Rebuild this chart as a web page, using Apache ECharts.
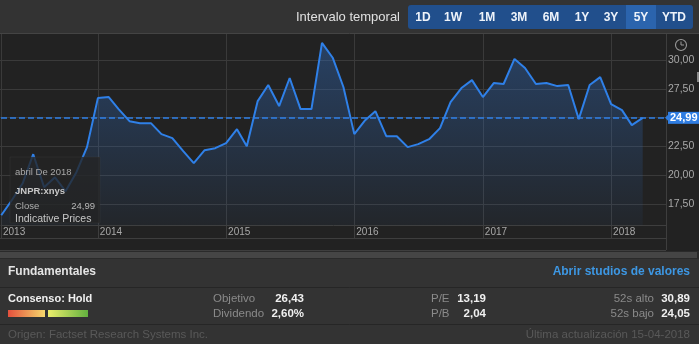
<!DOCTYPE html>
<html>
<head>
<meta charset="utf-8">
<script src="https://cdn.jsdelivr.net/npm/echarts@6/dist/echarts.min.js"></script>
<style>
  html, body { margin: 0; padding: 0; background: #222; }
  #chart { width: 699px; height: 344px; }
</style>
</head>
<body>
<div id="chart"></div>
<script>
// Monthly closing prices, JNPR:xnys, five-year view
const months = [
  '2013-04','2013-05','2013-06','2013-07','2013-08','2013-09','2013-10','2013-11','2013-12',
  '2014-01','2014-02','2014-03','2014-04','2014-05','2014-06','2014-07','2014-08','2014-09','2014-10','2014-11','2014-12',
  '2015-01','2015-02','2015-03','2015-04','2015-05','2015-06','2015-07','2015-08','2015-09','2015-10','2015-11','2015-12',
  '2016-01','2016-02','2016-03','2016-04','2016-05','2016-06','2016-07','2016-08','2016-09','2016-10','2016-11','2016-12',
  '2017-01','2017-02','2017-03','2017-04','2017-05','2017-06','2017-07','2017-08','2017-09','2017-10','2017-11','2017-12',
  '2018-01','2018-02','2018-03','2018-04'
];
const closes = [
  16.55, 17.85, 19.32, 21.84, 18.98, 19.84, 18.63, 20.28, 22.45,
  26.70, 26.79, 25.75, 24.70, 24.53, 24.53, 23.58, 23.23, 22.10, 21.06, 22.19, 22.36,
  22.80, 24.01, 22.53, 26.44, 27.83, 26.01, 28.44, 25.75, 25.75, 31.48, 30.17, 27.66,
  23.58, 24.79, 25.57, 23.40, 23.40, 22.45, 22.71, 23.14, 24.10, 26.35, 27.57, 28.26,
  26.79, 28.00, 27.92, 30.09, 29.31, 27.92, 28.00, 27.74, 27.83, 24.88, 27.83, 28.52,
  26.18, 25.66, 24.36, 24.99
];
const lastClose = 24.99;
const priceTicks = [17.5, 20, 22.5, 27.5, 30];
const rangeButtons = ['1D','1W','1M','3M','6M','1Y','3Y','5Y','YTD'];
const activeRange = '5Y';
const ticker = 'JNPR:xnys';
const tipDate = 'abril De 2018';
const fundamentals = {
  consensus: 'Hold', objetivo: '26,43', dividendo: '2,60%',
  pe: '13,19', pb: '2,04', alto: '30,89', bajo: '24,05',
  updated: '15-04-2018'
};

const FONT = '"Liberation Sans", Arial, sans-serif';
const fmt = v => v.toFixed(2).replace('.', ',');
const toTime = s => Date.UTC(+s.slice(0, 4), +s.slice(5, 7) - 1, 1);
const seriesData = months.map((m, i) => [toTime(m), closes[i]]);

const chart = echarts.init(document.getElementById('chart'), null, { renderer: 'canvas' });

// pixel layout of the price panel
const plotTop = 33, plotBottom = 225.3, plotRight = 666;
const pxPerUnit = 11.544, y30 = 60;
const valAt = y => 30 - (y - y30) / pxPerUnit;
const scaleMin = 15, scaleMax = 32.5;

const header = [];
header.push({ type: 'rect', shape: { x: 0, y: 0, width: 699, height: 33 }, style: { fill: '#333' }, z: 50 });
header.push({ type: 'line', shape: { x1: 0, y1: 33.5, x2: 699, y2: 33.5 }, style: { stroke: '#444', lineWidth: 1 }, z: 50 });
header.push({ type: 'text', style: { x: 400, y: 17, text: 'Intervalo temporal', fill: '#e0e0e0', font: '13px ' + FONT, align: 'right', verticalAlign: 'middle' }, z: 51 });
header.push({ type: 'rect', shape: { x: 408, y: 5, width: 285, height: 24, r: 3 }, style: { fill: '#214f8c' }, z: 51 });
const btnCenters = [423, 453, 487, 519, 551, 582, 611, 641, 674];
rangeButtons.forEach((b, i) => {
  if (b === activeRange) {
    header.push({ type: 'rect', shape: { x: btnCenters[i] - 15, y: 5, width: 30, height: 24 }, style: { fill: '#2b64ad' }, z: 52 });
  }
  header.push({ type: 'text', style: { x: btnCenters[i], y: 17.5, text: b, fill: '#eef3fa', font: 'bold 12px ' + FONT, align: 'center', verticalAlign: 'middle' }, z: 53 });
});

// clock icon, scroll hint and frame lines
const deco = [
  { type: 'circle', shape: { cx: 681, cy: 45, r: 5.5 }, style: { fill: 'none', stroke: '#9a9a9a', lineWidth: 1.1 }, z: 20 },
  { type: 'polyline', shape: { points: [[681, 41.5], [681, 45], [684, 45]] }, style: { fill: 'none', stroke: '#9a9a9a', lineWidth: 1 }, z: 20 },
  { type: 'rect', shape: { x: 697, y: 72, width: 2, height: 10 }, style: { fill: '#8a8a8a' }, z: 20 },
  { type: 'line', shape: { x1: 666.5, y1: 34, x2: 666.5, y2: 250 }, style: { stroke: '#3e3e3e', lineWidth: 1 }, z: 20 },
  { type: 'line', shape: { x1: 0, y1: 238.5, x2: 666, y2: 238.5 }, style: { stroke: '#3e3e3e', lineWidth: 1 }, z: 20 },
  { type: 'line', shape: { x1: 0, y1: 250.5, x2: 666, y2: 250.5 }, style: { stroke: '#3e3e3e', lineWidth: 1 }, z: 20 },
  { type: 'rect', shape: { x: 0, y: 251, width: 699, height: 8 }, style: { fill: '#2a2a2a' }, z: 20 },
  { type: 'rect', shape: { x: 0, y: 252, width: 697, height: 6 }, style: { fill: '#454545' }, z: 21 }
];

// tooltip card
const tip = [
  { type: 'rect', shape: { x: 10, y: 157, width: 90, height: 66 }, style: { fill: 'rgba(36,36,36,0.78)', stroke: 'rgba(70,70,70,0.6)', lineWidth: 0.5 }, z: 100 },
  { type: 'text', style: { x: 15, y: 172, text: tipDate, fill: '#a8a8a8', font: '9.5px ' + FONT, verticalAlign: 'middle' }, z: 101 },
  { type: 'text', style: { x: 15, y: 191, text: ticker, fill: '#c8c8c8', font: 'bold 9.5px ' + FONT, verticalAlign: 'middle' }, z: 101 },
  { type: 'text', style: { x: 15, y: 206, text: 'Close', fill: '#b0b0b0', font: '9.5px ' + FONT, verticalAlign: 'middle' }, z: 101 },
  { type: 'text', style: { x: 95, y: 206, text: fmt(lastClose), fill: '#b8b8b8', font: '9.5px ' + FONT, align: 'right', verticalAlign: 'middle' }, z: 101 },
  { type: 'text', style: { x: 15, y: 219, text: 'Indicative Prices', fill: '#c8c8c8', font: '10.5px ' + FONT, verticalAlign: 'middle' }, z: 101 }
];

// fundamentals panel
const panel = [
  { type: 'rect', shape: { x: 0, y: 259, width: 699, height: 85 }, style: { fill: '#333' }, z: 20 },
  { type: 'line', shape: { x1: 0, y1: 287.5, x2: 699, y2: 287.5 }, style: { stroke: '#262626', lineWidth: 1 }, z: 21 },
  { type: 'line', shape: { x1: 0, y1: 324.5, x2: 699, y2: 324.5 }, style: { stroke: '#262626', lineWidth: 1 }, z: 21 },
  { type: 'text', style: { x: 8, y: 272, text: 'Fundamentales', fill: '#e4e4e4', font: 'bold 12px ' + FONT, verticalAlign: 'middle' }, z: 22 },
  { type: 'text', style: { x: 690, y: 272, text: 'Abrir studios de valores', fill: '#3d97e3', font: 'bold 12px ' + FONT, align: 'right', verticalAlign: 'middle' }, z: 22 },
  { type: 'text', style: { x: 8, y: 299, text: 'Consenso: ' + fundamentals.consensus, fill: '#f0f0f0', font: 'bold 11px ' + FONT, verticalAlign: 'middle' }, z: 22 },
  { type: 'rect', shape: { x: 8, y: 310, width: 37, height: 7 }, style: { fill: new echarts.graphic.LinearGradient(0, 0, 1, 0, [{ offset: 0, color: '#e4503d' }, { offset: 1, color: '#f6d86c' }]) }, z: 22 },
  { type: 'rect', shape: { x: 48, y: 310, width: 40, height: 7 }, style: { fill: new echarts.graphic.LinearGradient(0, 0, 1, 0, [{ offset: 0, color: '#ecee6c' }, { offset: 1, color: '#63b13f' }]) }, z: 22 },
  { type: 'text', style: { x: 213, y: 299, text: 'Objetivo', fill: '#8a8a8a', font: '11.5px ' + FONT, verticalAlign: 'middle' }, z: 22 },
  { type: 'text', style: { x: 304, y: 299, text: fundamentals.objetivo, fill: '#f0f0f0', font: 'bold 11.5px ' + FONT, align: 'right', verticalAlign: 'middle' }, z: 22 },
  { type: 'text', style: { x: 213, y: 314, text: 'Dividendo', fill: '#8a8a8a', font: '11.5px ' + FONT, verticalAlign: 'middle' }, z: 22 },
  { type: 'text', style: { x: 304, y: 314, text: fundamentals.dividendo, fill: '#f0f0f0', font: 'bold 11.5px ' + FONT, align: 'right', verticalAlign: 'middle' }, z: 22 },
  { type: 'text', style: { x: 431, y: 299, text: 'P/E', fill: '#8a8a8a', font: '11.5px ' + FONT, verticalAlign: 'middle' }, z: 22 },
  { type: 'text', style: { x: 486, y: 299, text: fundamentals.pe, fill: '#f0f0f0', font: 'bold 11.5px ' + FONT, align: 'right', verticalAlign: 'middle' }, z: 22 },
  { type: 'text', style: { x: 431, y: 314, text: 'P/B', fill: '#8a8a8a', font: '11.5px ' + FONT, verticalAlign: 'middle' }, z: 22 },
  { type: 'text', style: { x: 486, y: 314, text: fundamentals.pb, fill: '#f0f0f0', font: 'bold 11.5px ' + FONT, align: 'right', verticalAlign: 'middle' }, z: 22 },
  { type: 'text', style: { x: 654, y: 299, text: '52s alto', fill: '#8a8a8a', font: '11.5px ' + FONT, align: 'right', verticalAlign: 'middle' }, z: 22 },
  { type: 'text', style: { x: 690, y: 299, text: fundamentals.alto, fill: '#f0f0f0', font: 'bold 11.5px ' + FONT, align: 'right', verticalAlign: 'middle' }, z: 22 },
  { type: 'text', style: { x: 654, y: 314, text: '52s bajo', fill: '#8a8a8a', font: '11.5px ' + FONT, align: 'right', verticalAlign: 'middle' }, z: 22 },
  { type: 'text', style: { x: 690, y: 314, text: fundamentals.bajo, fill: '#f0f0f0', font: 'bold 11.5px ' + FONT, align: 'right', verticalAlign: 'middle' }, z: 22 },
  { type: 'text', style: { x: 8, y: 335, text: 'Origen: Factset Research Systems Inc.', fill: '#595959', font: '11.5px ' + FONT, verticalAlign: 'middle' }, z: 22 },
  { type: 'text', style: { x: 690, y: 335, text: 'Última actualización ' + fundamentals.updated, fill: '#595959', font: '11.5px ' + FONT, align: 'right', verticalAlign: 'middle' }, z: 22 }
];

const option = {
  animation: false,
  useUTC: true,
  backgroundColor: '#222',
  textStyle: { fontFamily: FONT },
  grid: [
    // price plot
    { left: 0, right: 699 - plotRight, top: plotTop, height: plotBottom - plotTop, containLabel: false },
    // price scale (gridlines and labels every 2,50)
    { left: 0, right: 699 - plotRight, top: y30 - (scaleMax - 30) * pxPerUnit, height: (scaleMax - scaleMin) * pxPerUnit, containLabel: false }
  ],
  xAxis: [
    {
      type: 'time', gridIndex: 0,
      min: Date.UTC(2013, 2, 31, 6), max: Date.UTC(2018, 5, 6, 8),
      minInterval: 360 * 864e5, maxInterval: 370 * 864e5,
      axisLine: { show: true, lineStyle: { color: '#3e3e3e', width: 1 } },
      axisTick: { show: true, length: 13, lineStyle: { color: '#3e3e3e' } },
      splitLine: { show: true, lineStyle: { color: '#3a3a3a', width: 1 } },
      axisLabel: {
        show: true, margin: 2, align: 'left', padding: [0, 0, 0, 2],
        color: '#a8a8a8', fontSize: 10, fontFamily: FONT,
        showMinLabel: true, showMaxLabel: false, hideOverlap: false,
        formatter: v => String(new Date(v).getUTCFullYear())
      }
    },
    { type: 'value', gridIndex: 1, show: false, min: 0, max: 1 }
  ],
  yAxis: [
    {
      type: 'value', gridIndex: 0, show: false,
      min: valAt(plotBottom), max: valAt(plotTop),
      splitLine: { show: false }
    },
    {
      type: 'value', gridIndex: 1, position: 'right',
      min: scaleMin, max: scaleMax, interval: 2.5,
      axisLine: { show: false }, axisTick: { show: false },
      splitLine: { show: true, showMinLine: false, showMaxLine: false, lineStyle: { color: '#3a3a3a', width: 1 } },
      axisLabel: {
        margin: 2, color: '#a8a8a8', fontSize: 10.5, fontFamily: FONT,
        formatter: v => priceTicks.some(t => Math.abs(t - v) < 1e-6) ? fmt(v) : ''
      }
    }
  ],
  series: [{
    type: 'line',
    xAxisIndex: 0, yAxisIndex: 0,
    data: seriesData,
    symbol: 'none',
    smooth: false,
    lineStyle: { color: '#2f80e8', width: 2 },
    areaStyle: {
      color: new echarts.graphic.LinearGradient(0, 0, 0, 1, [
        { offset: 0, color: 'rgba(48,108,190,0.6)' },
        { offset: 1, color: 'rgba(48,108,190,0.08)' }
      ])
    },
    markLine: {
      silent: true,
      symbol: 'none',
      data: [{ yAxis: lastClose }],
      lineStyle: { color: '#2f80e8', type: [6, 3], width: 1.5 },
      label: {
        show: true, position: 'end', distance: 2,
        formatter: () => fmt(lastClose),
        backgroundColor: '#2f7de2', color: '#fff',
        fontWeight: 'bold', fontSize: 11, fontFamily: FONT,
        padding: [1, 2, 0, 2]
      }
    }
  }],
  graphic: { elements: header.concat(deco, tip, panel) }
};

chart.setOption(option);

// pointer notch on the last-price tag
const tagY = chart.convertToPixel({ yAxisIndex: 0 }, lastClose);
chart.setOption({
  graphic: { elements: header.concat(deco, tip, panel, [
    { type: 'polygon', shape: { points: [[665, tagY], [669, tagY - 4], [669, tagY + 4]] }, style: { fill: '#2f7de2' }, z: 30 }
  ]) }
});
</script>
</body>
</html>
